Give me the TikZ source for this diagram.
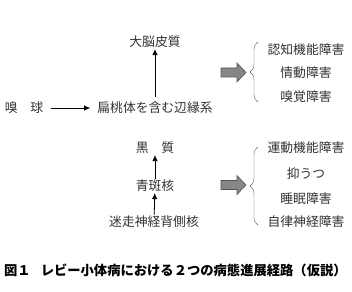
\documentclass[tikz,border=0pt]{standalone}
\usepackage{fontspec}
\setmainfont{Noto Sans CJK JP}
\usepackage{tikz}
\usetikzlibrary{arrows.meta,positioning,decorations.pathreplacing}
\definecolor{textgray}{RGB}{50,50,50}
\definecolor{blockgray}{RGB}{135,135,135}
\definecolor{blockedge}{RGB}{85,85,85}
\definecolor{bracegray}{RGB}{90,90,90}

\begin{document}
\begin{tikzpicture}[x=1pt,y=-1pt,>={Latex[length=6pt,width=5.5pt]},every node/.style={align=center,font=\fontsize{12.8}{15}\selectfont,text=textgray,inner sep=1pt},
  blockarrow/.style={draw=blockedge,fill=blockgray,line width=0.6pt}]
  \useasboundingbox (0,0) rectangle (352,291);
  % upper path
  \node (cortex) at (155,42) {大脳皮質};
  \node (bulb) at (24,108) {嗅　球};
  \node (limbic) at (155,108) {扁桃体を含む辺縁系};
  \draw[->,thick,shorten <=7pt,shorten >=6pt] (bulb) -- (limbic);
  \draw[->,thick,shorten <=4pt] (limbic) -- (cortex);
  \coordinate (upblock) at (221,72.5);
  \filldraw[blockarrow] (upblock) ++(0,-4.5) -- ++(16,0) -- ++(0,-5) -- ++(9,9.5) -- ++(-9,9.5)
    -- ++(0,-5) -- ++(-16,0) -- cycle;
  \coordinate (upbracebot) at (258,102);
  \coordinate (upbracetop) at (258,42);
  \draw[bracegray,decorate,decoration={brace,amplitude=8pt}] (upbracebot) -- (upbracetop);
  \node (cog) at (306,50) {認知機能障害};
  \node (emo) at (306,73) {情動障害};
  \node (smell) at (306,97) {嗅覚障害};
  % lower path
  \node (nigra) at (155,148) {黒　質};
  \node (locus) at (155,186) {青斑核};
  \node (vagus) at (154,222) {迷走神経背側核};
  \draw[->,thick] (locus) -- (nigra);
  \draw[->,thick] (vagus) -- (locus);
  \coordinate (lowblock) at (221,185);
  \filldraw[blockarrow] (lowblock) ++(0,-4.5) -- ++(16,0) -- ++(0,-5) -- ++(9,9.5) -- ++(-9,9.5)
    -- ++(0,-5) -- ++(-16,0) -- cycle;
  \coordinate (lowbracebot) at (258,225);
  \coordinate (lowbracetop) at (258,147);
  \draw[bracegray,decorate,decoration={brace,amplitude=8pt}] (lowbracebot) -- (lowbracetop);
  \node (motor) at (306,148) {運動機能障害};
  \node (depress) at (306,174) {抑うつ};
  \node (sleep) at (306,199) {睡眠障害};
  \node (auto) at (306,222) {自律神経障害};
  % caption
  \node[anchor=west,text=black,font=\fontsize{13.3}{15}\selectfont\bfseries] (caption) at (3,270)
    {図１\hspace{10pt}レビー小体病における２つの病態進展経路（仮説）};
\end{tikzpicture}
\end{document}
